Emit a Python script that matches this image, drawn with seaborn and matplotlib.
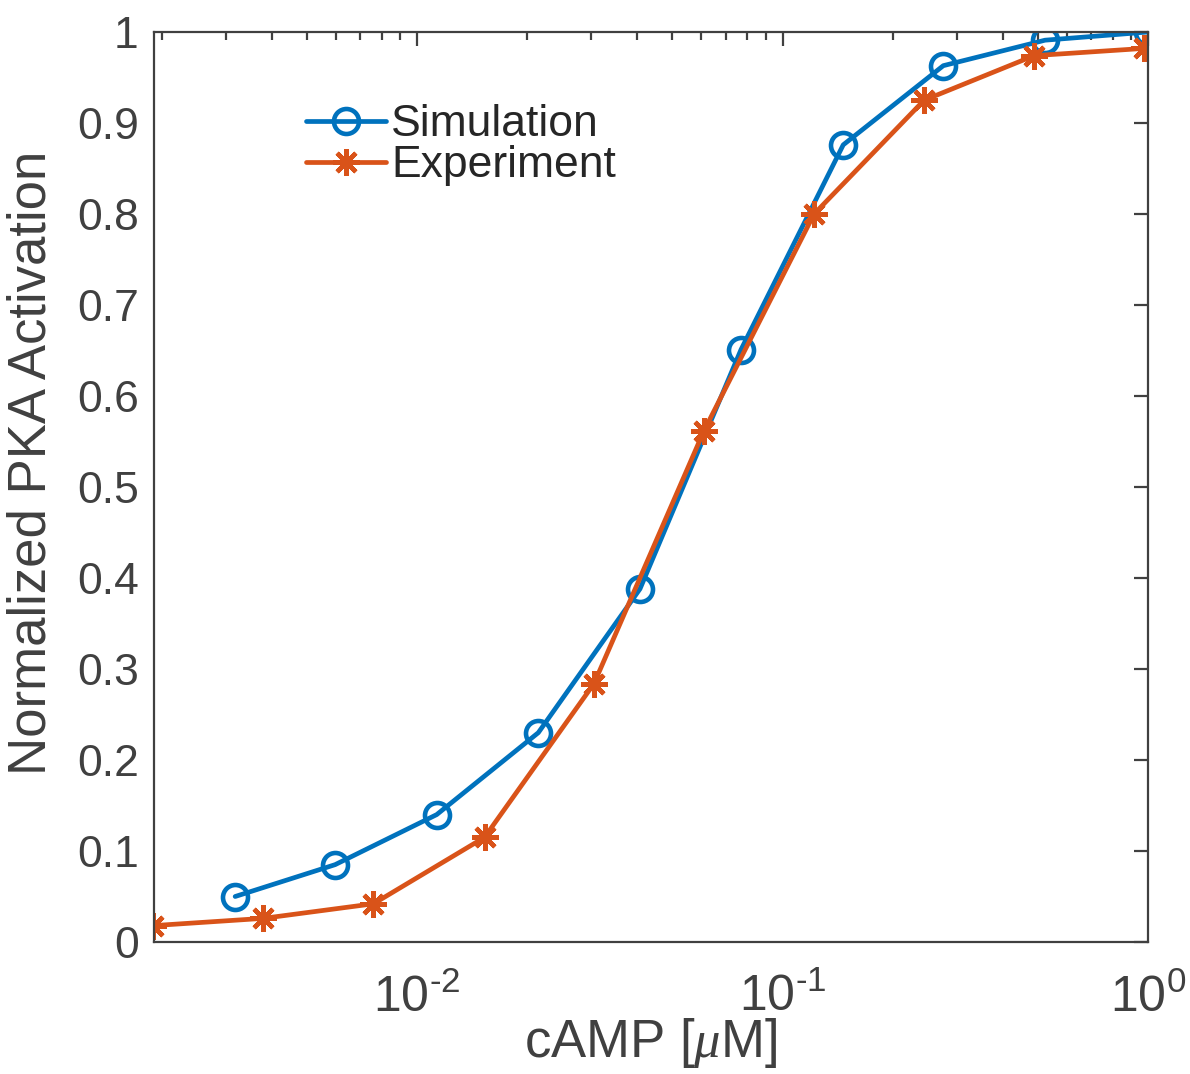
import matplotlib
matplotlib.use("Agg")
import matplotlib.pyplot as plt
import seaborn as sns
import numpy as np
from matplotlib.ticker import LogLocator, FixedLocator, FixedFormatter, NullFormatter

# ---- data ----
sim_x = [0.00318, 0.00597, 0.01132, 0.02147, 0.04074, 0.0770, 0.1466, 0.2754, 0.5227, 1.0]
sim_y = [0.050, 0.085, 0.140, 0.230, 0.388, 0.651, 0.876, 0.963, 0.991, 1.000]
exp_x = [0.0019, 0.0038, 0.0076, 0.0153, 0.0305, 0.061, 0.122, 0.244, 0.488, 0.977]
exp_y = [0.018, 0.026, 0.042, 0.115, 0.284, 0.562, 0.800, 0.925, 0.974, 0.982]
series_names = ["Simulation", "Experiment"]
y_ticks = [0, 0.1, 0.2, 0.3, 0.4, 0.5, 0.6, 0.7, 0.8, 0.9, 1]
y_tick_labels = ["0", "0.1", "0.2", "0.3", "0.4", "0.5", "0.6", "0.7", "0.8", "0.9", "1"]
x_ticks = [0.01, 0.1, 1.0]
x_tick_labels = [r"$10^{\text{-}2}$", r"$10^{\text{-}1}$", r"$10^{0}$"]

sns.set_theme(style="white")
plt.rcParams['font.family'] = ['Liberation Sans', 'DejaVu Sans']
plt.rcParams['mathtext.fontset'] = 'custom'
plt.rcParams['mathtext.rm'] = 'Liberation Sans'
plt.rcParams['mathtext.it'] = 'Liberation Serif:italic'
plt.rcParams['mathtext.default'] = 'regular'
plt.rcParams['axes.unicode_minus'] = False

gray = '#404040'
blue = '#0072BD'
orange = '#D95319'

fig = plt.figure(figsize=(11.9, 10.74), dpi=100)
ax = fig.add_axes([154/1190, 1 - 942/1074, (1148-154)/1190, (942-32)/1074])

sns.lineplot(x=sim_x, y=sim_y, ax=ax, color=blue, linewidth=3.4, marker='o',
             markersize=18, markerfacecolor='none', markeredgecolor=blue,
             markeredgewidth=3.3, label=series_names[0], sort=False)
sns.lineplot(x=exp_x, y=exp_y, ax=ax, color=orange, linewidth=3.4, marker=(8, 2, 0),
             markersize=19, markeredgecolor=orange, markeredgewidth=3.2,
             label=series_names[1], sort=False)

ax.set_xscale('log')
ax.set_xlim(0.001907, 1.0)
ax.set_ylim(0, 1)
ax.set_yticks(y_ticks)
ax.set_yticklabels(y_tick_labels)
ax.xaxis.set_major_locator(FixedLocator(x_ticks))
ax.xaxis.set_major_formatter(FixedFormatter(x_tick_labels))
ax.xaxis.set_minor_locator(LogLocator(base=10, subs=np.arange(2, 10), numticks=20))
ax.xaxis.set_minor_formatter(NullFormatter())

for s in ax.spines.values():
    s.set_visible(True)
    s.set_color(gray)
    s.set_linewidth(1.6)

ax.tick_params(which='both', direction='in', top=True, right=True, colors=gray,
               width=1.6, labelcolor=gray)
ax.tick_params(which='major', length=10)
ax.tick_params(which='minor', length=6)
ax.tick_params(axis='y', which='major', pad=11, labelsize=32)
ax.tick_params(axis='x', which='major', pad=23, labelsize=36)

ax.set_xlabel(r'cAMP [$\mathit{\mu}$M]', fontsize=38, color=gray)
ax.xaxis.set_label_coords(0.5, -0.081)
ax.set_ylabel('Normalized PKA Activation', fontsize=38, color=gray)
ax.yaxis.set_label_coords(-0.098, 0.527)

leg = ax.legend(loc='upper left', bbox_to_anchor=(0.135, 0.94), frameon=False,
                fontsize=32, handlelength=1.8, handletextpad=0.12, labelspacing=0.0,
                borderaxespad=0)
for t in leg.get_texts():
    t.set_color('#262626')

ax.grid(False)
fig.savefig('out.png', dpi=100)
